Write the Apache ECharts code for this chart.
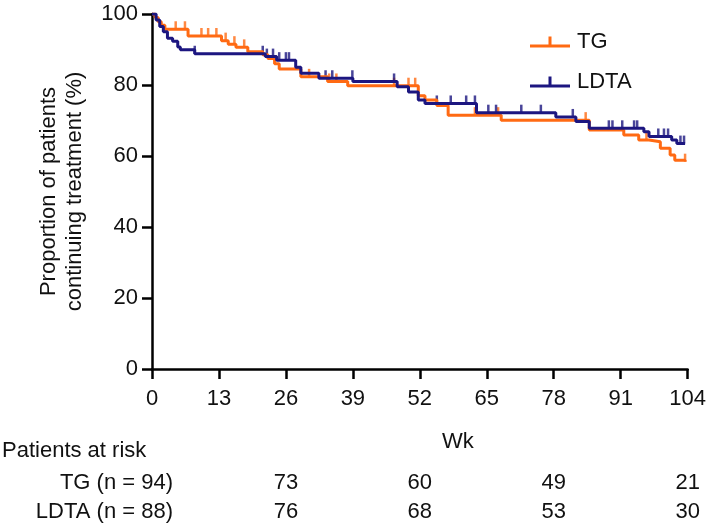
<!DOCTYPE html>
<html>
<head>
<meta charset="utf-8">
<script src="https://cdn.jsdelivr.net/npm/echarts@6/dist/echarts.min.js"></script>
<style>
  html, body { margin: 0; padding: 0; background: #fff; }
  #chart { width: 709px; height: 525px; }
</style>
</head>
<body>
<div id="chart"></div>
<script>
// Kaplan-Meier steps (week, % still on treatment)
const tgWeeks = [0, 0.6, 1.2, 1.8, 2.5, 7, 13.5, 14.8, 16.3, 18.6, 21.5, 22.5, 23.8, 24.7, 28.9, 34.1, 38, 51.7, 53, 55.3, 57.5, 67.8, 84.9, 91.6, 94.5, 96.5, 98.7, 100.6, 101.5, 103.5];
const tgSurv  = [100, 99, 97.8, 96.8, 95.7, 93.8, 92.5, 91.5, 90.6, 89.4, 88.5, 87.5, 86, 84.5, 82.3, 81, 79.8, 77, 75.8, 74.2, 71.5, 70.1, 67.3, 65.9, 64.5, 64, 62.2, 60.3, 58.8, 58.4];
const tgCensor = [4.6, 6.4, 9.6, 10.9, 12.5, 14.3, 16, 17.9, 30.5, 34.4, 35.8, 47, 49.8, 51.1, 62.7, 67.2, 84.2, 96, 103.5];

const ldtaWeeks = [0, 0.8, 1.5, 2.2, 3, 4, 5, 5.5, 8.3, 22, 24.2, 27.9, 28.9, 32.4, 39, 47.6, 49.8, 51.7, 53, 63, 78.4, 82.3, 84.9, 95.5, 96.5, 100.9, 101.9, 103.5];
const ldtaSurv  = [100, 98.3, 96.5, 95, 93.2, 92.3, 90.7, 89.9, 88.8, 88, 87, 85, 83.3, 81.9, 81, 79.5, 78, 75.8, 74.8, 72.2, 71, 69.7, 67.8, 66.8, 65.5, 64.5, 63.5, 63.5];
const ldtaCensor = [8.3, 21.5, 22.3, 23.5, 24.7, 26, 26.6, 33.7, 35, 38.9, 47, 55.3, 58, 61, 62.7, 65.3, 66.8, 71.7, 75.5, 81.7, 88.7, 89.4, 91.3, 93.6, 94.2, 98.3, 99.4, 100.2, 102.6, 103.3];

const riskWeeks = [26, 52, 78, 104];
const riskTG = [73, 60, 49, 21];
const riskLDTA = [76, 68, 53, 30];

const orange = '#ff6a13';
const navy = '#1c1680';
const font = 'Liberation Sans, Arial, Helvetica, sans-serif';
const fs = 22;

function pairs(w, s) { return w.map((t, i) => [t, s[i]]); }
function valueAt(w, s, t) {
  let v = s[0];
  for (let i = 0; i < w.length; i++) { if (w[i] <= t) v = s[i]; }
  return v;
}
function censorPts(c, w, s) { return c.map(t => [t, valueAt(w, s, t)]); }

const legendIcon = 'path://M0,8h40v3H0z M18.5,0h3v8h-3z';

const chart = echarts.init(document.getElementById('chart'));
chart.setOption({
  animation: false,
  textStyle: { fontFamily: font },
  grid: { left: 152, right: 18, top: 14, bottom: 156 },
  legend: {
    left: 525, top: 26, orient: 'vertical', itemGap: 18,
    itemWidth: 40, itemHeight: 11,
    textStyle: { fontSize: fs, color: '#111', padding: [0, 0, 0, 2] },
    data: [
      { name: 'TG', icon: legendIcon, itemStyle: { color: orange } },
      { name: 'LDTA', icon: legendIcon, itemStyle: { color: navy } }
    ]
  },
  xAxis: {
    type: 'value', min: 0, max: 104, interval: 13,
    name: 'Wk', nameLocation: 'middle', nameGap: 62,
    nameTextStyle: { fontSize: fs, color: '#111', padding: [0, 0, 0, 76] },
    axisLine: { lineStyle: { color: '#000', width: 2.5 } },
    axisTick: { length: 10, lineStyle: { color: '#000', width: 2.5 } },
    axisLabel: { fontSize: fs, color: '#111', margin: 19 },
    splitLine: { show: false }
  },
  yAxis: {
    type: 'value', min: 0, max: 100, interval: 20,
    name: 'Proportion of patients\ncontinuing treatment (%)',
    nameLocation: 'middle', nameGap: 64,
    nameTextStyle: { fontSize: fs, color: '#111', lineHeight: 26 },
    axisLine: { show: true, lineStyle: { color: '#000', width: 2.5 } },
    axisTick: { show: true, length: 10, lineStyle: { color: '#000', width: 2.5 } },
    axisLabel: { fontSize: fs, color: '#111', margin: 14 },
    splitLine: { show: false }
  },
  series: [
    {
      name: 'TG', type: 'line', step: 'end', showSymbol: false,
      data: pairs(tgWeeks, tgSurv),
      lineStyle: { color: orange, width: 3 }, itemStyle: { color: orange }
    },
    {
      name: 'TG censored', type: 'scatter', symbol: 'rect',
      symbolSize: [2.5, 8], symbolOffset: [0, -4],
      data: censorPts(tgCensor, tgWeeks, tgSurv), itemStyle: { color: orange }
    },
    {
      name: 'LDTA', type: 'line', step: 'end', showSymbol: false,
      data: pairs(ldtaWeeks, ldtaSurv),
      lineStyle: { color: navy, width: 3 }, itemStyle: { color: navy }
    },
    {
      name: 'LDTA censored', type: 'scatter', symbol: 'rect',
      symbolSize: [2.5, 8], symbolOffset: [0, -4],
      data: censorPts(ldtaCensor, ldtaWeeks, ldtaSurv), itemStyle: { color: navy }
    }
  ]
});

// patients-at-risk table under the axis, columns placed by the x scale
const txt = (x, y, s, align) => ({
  type: 'text', x: x, y: y,
  style: { text: s, fontSize: fs, fontFamily: font, fill: '#111', align: align, verticalAlign: 'middle' }
});
const rowTG = 483, rowLDTA = 512;
const g = [
  txt(2, 451, 'Patients at risk', 'left'),
  txt(173, rowTG, 'TG (n = 94)', 'right'),
  txt(173, rowLDTA, 'LDTA (n = 88)', 'right')
];
riskWeeks.forEach((w, i) => {
  const px = chart.convertToPixel({ gridIndex: 0 }, [w, 0])[0];
  g.push(txt(px, rowTG, String(riskTG[i]), 'center'));
  g.push(txt(px, rowLDTA, String(riskLDTA[i]), 'center'));
});
chart.setOption({ graphic: g });
</script>
</body>
</html>
